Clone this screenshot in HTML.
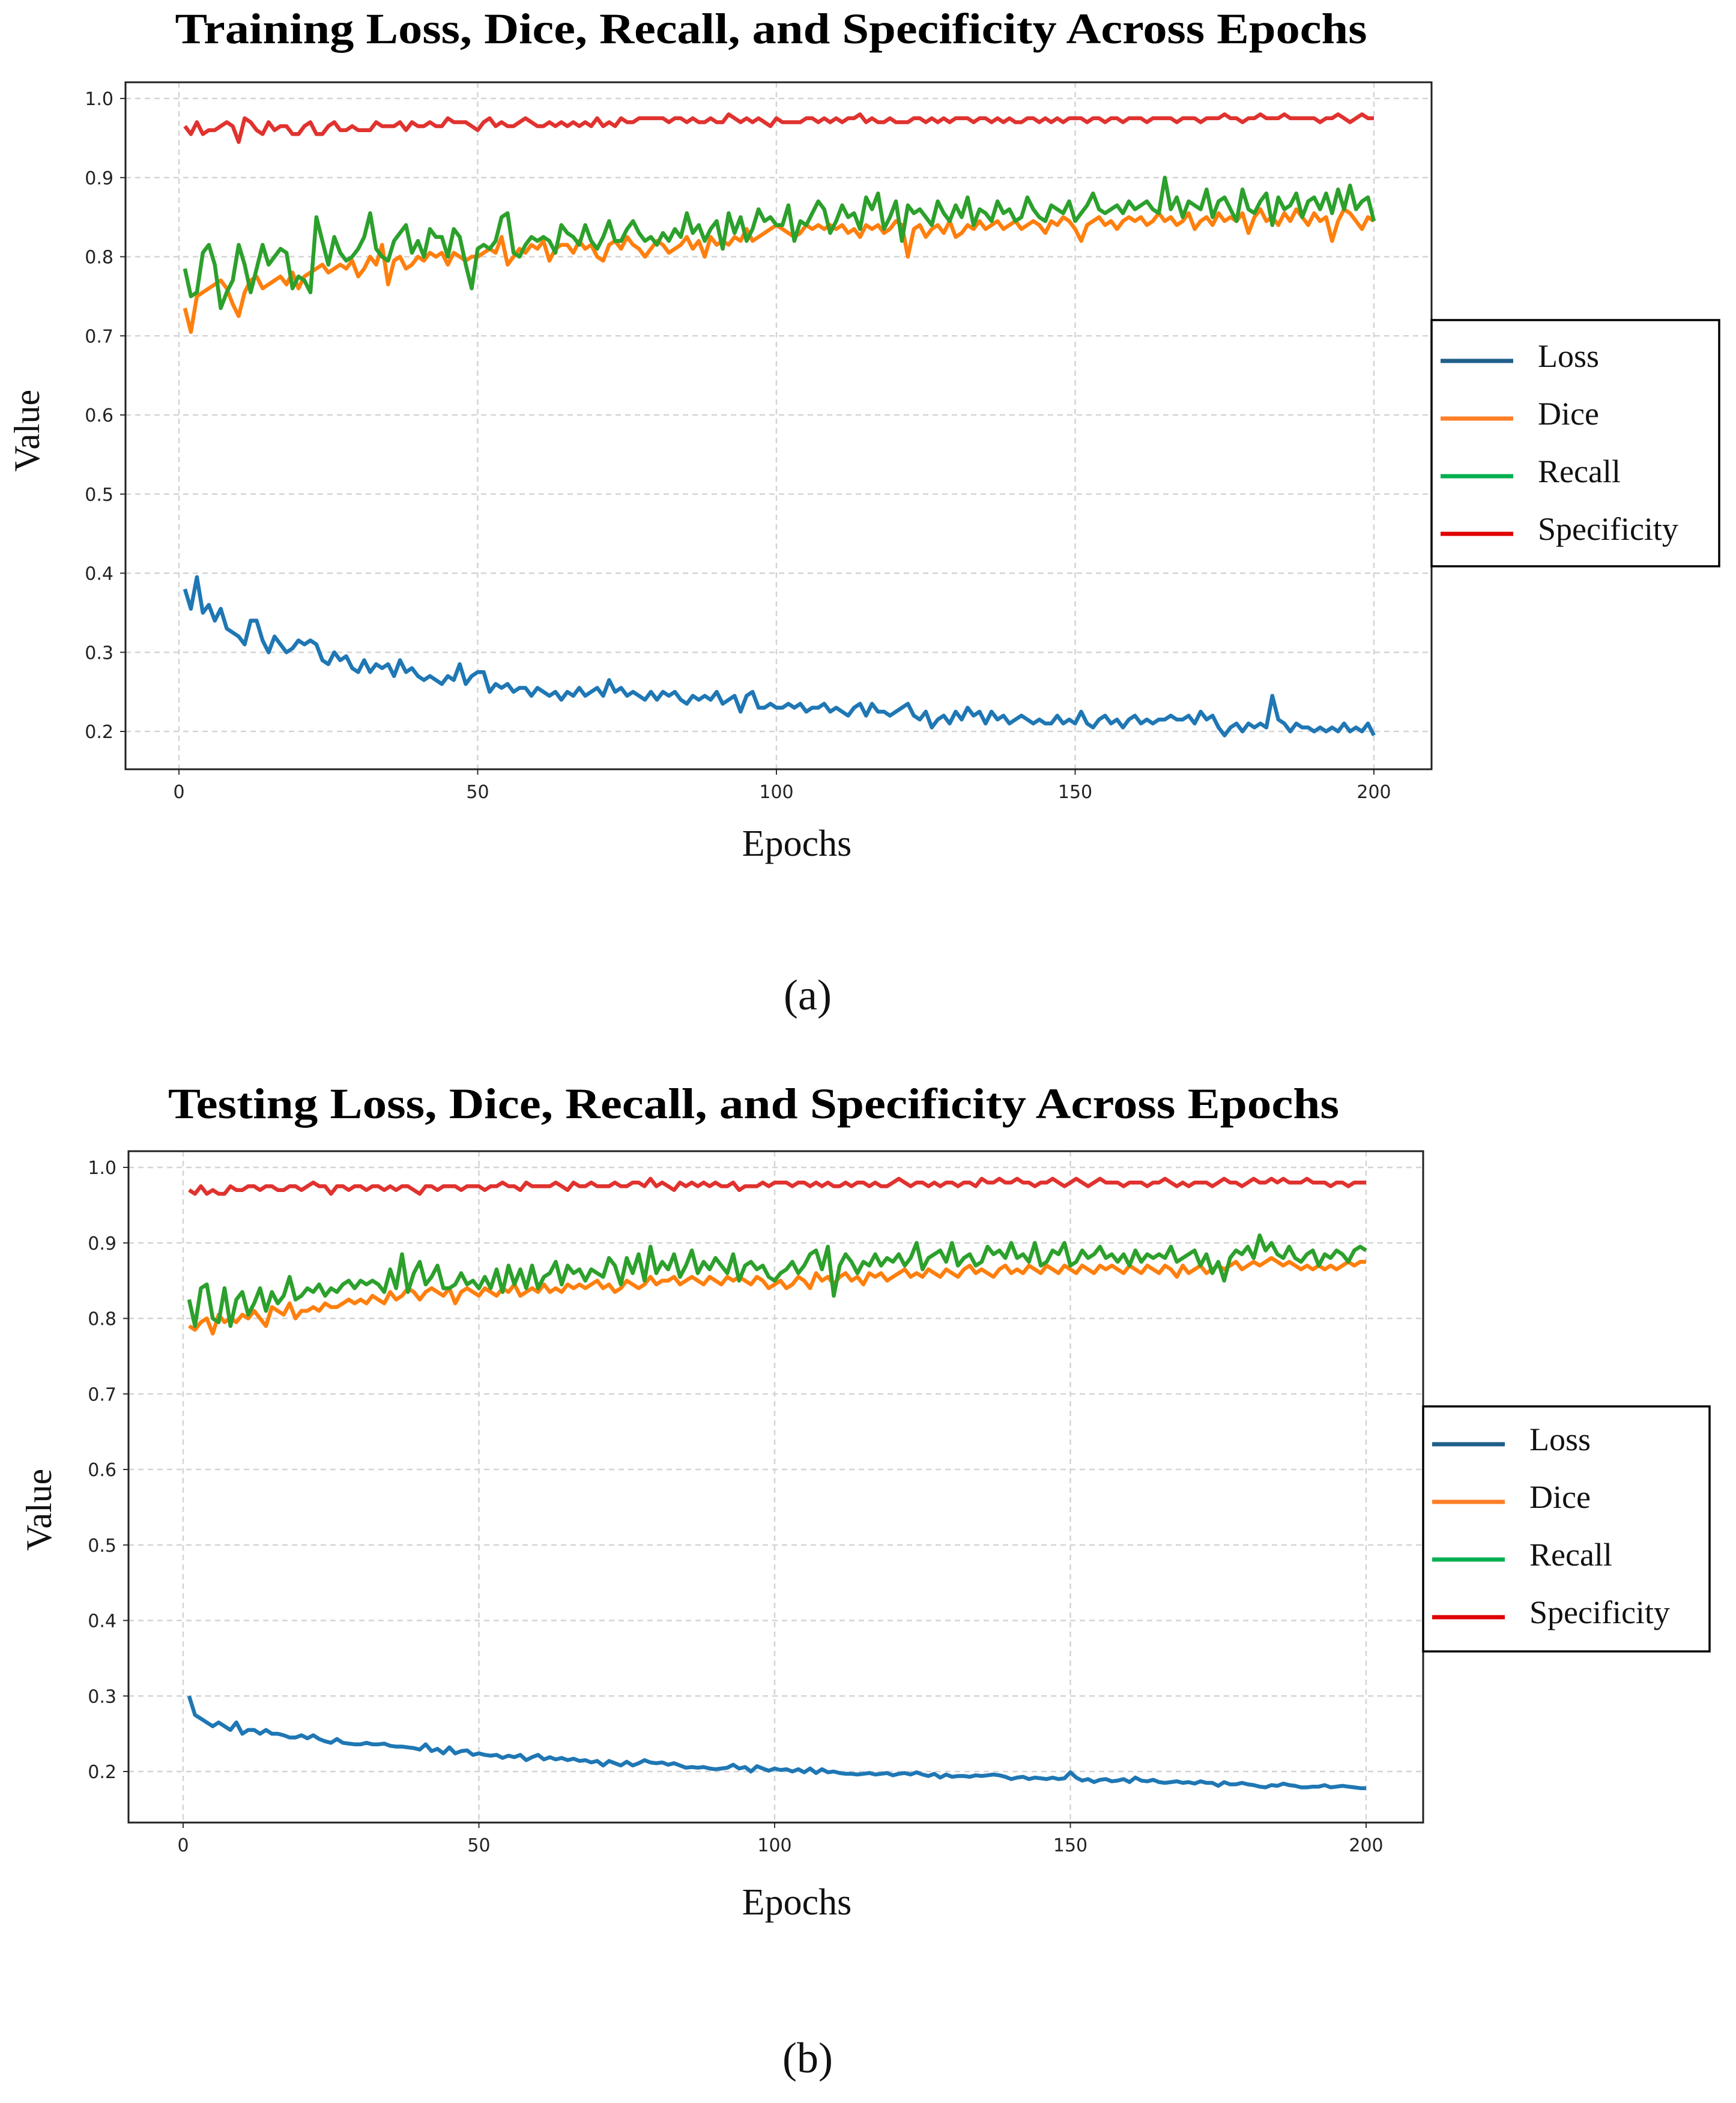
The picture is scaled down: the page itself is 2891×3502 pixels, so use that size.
<!DOCTYPE html>
<html><head><meta charset="utf-8">
<style>
html,body{margin:0;padding:0;background:#fff;}
svg{display:block;}
</style></head>
<body>
<svg id="fig" width="2891" height="3502" viewBox="0 0 2891 3502" xmlns="http://www.w3.org/2000/svg"></svg>
<script>
const yTicks=[0.2,0.3,0.4,0.5,0.6,0.7,0.8,0.9,1.0];
const yTickLabels=["0.2","0.3","0.4","0.5","0.6","0.7","0.8","0.9","1.0"];
const xTicks=[0,50,100,150,200];
const xTickLabels=["0","50","100","150","200"];
const seriesNames=["Loss","Dice","Recall","Specificity"];

const trainLoss=[0.38,0.355,0.395,0.35,0.36,0.34,0.355,0.33,0.325,0.32,0.31,0.34,0.34,0.315,0.30,0.32,0.31,0.30,0.305,0.315,0.31,0.315,0.31,0.29,0.285,0.30,0.29,0.295,0.28,0.275,0.29,0.275,0.285,0.28,0.285,0.27,0.29,0.275,0.28,0.27,0.265,0.27,0.265,0.26,0.27,0.265,0.285,0.26,0.27,0.275,0.275,0.25,0.26,0.255,0.26,0.25,0.255,0.255,0.245,0.255,0.25,0.245,0.25,0.24,0.25,0.245,0.255,0.245,0.25,0.255,0.245,0.265,0.25,0.255,0.245,0.25,0.245,0.24,0.25,0.24,0.25,0.245,0.25,0.24,0.235,0.245,0.24,0.245,0.24,0.25,0.235,0.24,0.245,0.225,0.245,0.25,0.23,0.23,0.235,0.23,
0.23,0.235,0.23,0.235,0.225,0.23,0.23,0.235,0.225,0.23,0.225,0.22,0.23,0.235,0.22,0.235,0.225,0.225,0.22,0.225,0.23,0.235,0.22,0.215,0.225,0.205,0.215,0.22,0.21,0.225,0.215,0.23,0.22,0.225,0.21,0.225,0.215,0.22,0.21,0.215,0.22,0.215,0.21,0.215,0.21,0.21,0.22,0.21,0.215,0.21,0.225,0.21,0.205,0.215,0.22,0.21,0.215,0.205,0.215,0.22,0.21,0.215,0.21,0.215,0.215,0.22,0.215,0.215,0.22,0.21,0.225,0.215,0.22,0.205,0.195,0.205,0.21,0.20,0.21,0.205,0.21,0.205,0.245,0.215,0.21,0.20,0.21,0.205,0.205,0.20,0.205,0.20,0.205,0.20,0.21,0.20,0.205,0.20,0.21,0.195];
const trainDice=[0.735,0.705,0.75,0.755,0.76,0.765,0.77,0.76,0.74,0.725,0.755,0.77,0.775,0.76,0.765,0.77,0.775,0.765,0.78,0.76,0.775,0.78,0.785,0.79,0.78,0.785,0.79,0.785,0.795,0.775,0.785,0.80,0.79,0.815,0.765,0.795,0.80,0.785,0.79,0.80,0.795,0.805,0.80,0.805,0.79,0.805,0.80,0.795,0.80,0.80,0.805,0.81,0.805,0.825,0.79,0.80,0.81,0.805,0.815,0.81,0.82,0.795,0.81,0.815,0.815,0.805,0.82,0.81,0.815,0.80,0.795,0.815,0.82,0.81,0.825,0.815,0.81,0.80,0.81,0.82,0.815,0.805,0.81,0.815,0.825,0.81,0.82,0.80,0.825,0.815,0.82,0.815,0.825,0.82,0.835,0.82,0.825,0.83,0.835,0.84,
0.835,0.83,0.825,0.83,0.84,0.835,0.84,0.835,0.84,0.835,0.84,0.83,0.835,0.825,0.84,0.835,0.84,0.83,0.835,0.845,0.84,0.80,0.835,0.84,0.825,0.835,0.84,0.83,0.845,0.825,0.83,0.84,0.835,0.845,0.835,0.84,0.845,0.835,0.84,0.845,0.835,0.84,0.845,0.84,0.83,0.845,0.84,0.85,0.845,0.835,0.82,0.84,0.845,0.85,0.84,0.845,0.835,0.845,0.85,0.845,0.85,0.84,0.845,0.855,0.845,0.85,0.84,0.845,0.855,0.835,0.845,0.85,0.84,0.855,0.845,0.85,0.845,0.855,0.83,0.85,0.86,0.845,0.85,0.84,0.855,0.845,0.86,0.85,0.84,0.855,0.845,0.85,0.82,0.845,0.86,0.855,0.845,0.835,0.85,0.845];
const trainRecall=[0.785,0.75,0.755,0.805,0.815,0.79,0.735,0.755,0.77,0.815,0.79,0.755,0.785,0.815,0.79,0.80,0.81,0.805,0.76,0.775,0.77,0.755,0.85,0.82,0.79,0.825,0.805,0.795,0.80,0.81,0.825,0.855,0.81,0.80,0.795,0.82,0.83,0.84,0.805,0.82,0.80,0.835,0.825,0.825,0.80,0.835,0.825,0.79,0.76,0.81,0.815,0.81,0.82,0.85,0.855,0.805,0.80,0.815,0.825,0.82,0.825,0.82,0.805,0.84,0.83,0.825,0.815,0.84,0.82,0.81,0.825,0.845,0.82,0.82,0.835,0.845,0.83,0.82,0.825,0.815,0.83,0.82,0.835,0.825,0.855,0.83,0.84,0.82,0.835,0.845,0.81,0.855,0.83,0.85,0.82,0.835,0.86,0.845,0.85,0.84,
0.84,0.865,0.82,0.845,0.84,0.855,0.87,0.86,0.83,0.845,0.865,0.85,0.855,0.835,0.875,0.86,0.88,0.835,0.85,0.87,0.82,0.865,0.855,0.86,0.85,0.84,0.87,0.855,0.845,0.865,0.85,0.875,0.84,0.86,0.855,0.845,0.87,0.855,0.86,0.845,0.85,0.875,0.86,0.85,0.845,0.865,0.86,0.855,0.87,0.845,0.855,0.865,0.88,0.86,0.855,0.86,0.865,0.855,0.87,0.86,0.865,0.87,0.86,0.855,0.90,0.86,0.875,0.85,0.87,0.865,0.86,0.885,0.85,0.87,0.875,0.86,0.845,0.885,0.86,0.855,0.87,0.88,0.84,0.875,0.86,0.865,0.88,0.85,0.87,0.875,0.86,0.88,0.855,0.885,0.86,0.89,0.86,0.87,0.875,0.845];
const trainSpec=[0.965,0.955,0.97,0.955,0.96,0.96,0.965,0.97,0.965,0.945,0.975,0.97,0.96,0.955,0.97,0.96,0.965,0.965,0.955,0.955,0.965,0.97,0.955,0.955,0.965,0.97,0.96,0.96,0.965,0.96,0.96,0.96,0.97,0.965,0.965,0.965,0.97,0.96,0.97,0.965,0.965,0.97,0.965,0.965,0.975,0.97,0.97,0.97,0.965,0.96,0.97,0.975,0.965,0.97,0.965,0.965,0.97,0.975,0.97,0.965,0.965,0.97,0.965,0.97,0.965,0.97,0.965,0.97,0.965,0.975,0.965,0.97,0.965,0.975,0.97,0.97,0.975,0.975,0.975,0.975,0.975,0.97,0.975,0.975,0.97,0.975,0.97,0.97,0.975,0.97,0.97,0.98,0.975,0.97,0.975,0.97,0.975,0.97,0.965,0.975,
0.97,0.97,0.97,0.97,0.975,0.975,0.97,0.975,0.97,0.975,0.97,0.975,0.975,0.98,0.97,0.975,0.97,0.97,0.975,0.97,0.97,0.97,0.975,0.975,0.97,0.975,0.97,0.975,0.97,0.975,0.975,0.975,0.97,0.975,0.975,0.97,0.975,0.97,0.975,0.97,0.97,0.975,0.975,0.97,0.975,0.97,0.975,0.97,0.975,0.975,0.975,0.97,0.975,0.975,0.97,0.975,0.975,0.97,0.975,0.975,0.975,0.97,0.975,0.975,0.975,0.975,0.97,0.975,0.975,0.975,0.97,0.975,0.975,0.975,0.98,0.975,0.975,0.97,0.975,0.975,0.98,0.975,0.975,0.975,0.98,0.975,0.975,0.975,0.975,0.975,0.97,0.975,0.975,0.98,0.975,0.97,0.975,0.98,0.975,0.975];

const testLoss=[0.30,0.275,0.27,0.265,0.26,0.265,0.26,0.255,0.265,0.25,0.255,0.255,0.25,0.255,0.25,0.25,0.248,0.245,0.245,0.248,0.244,0.248,0.243,0.24,0.238,0.243,0.238,0.237,0.236,0.236,0.238,0.236,0.236,0.237,0.234,0.233,0.233,0.232,0.231,0.229,0.236,0.227,0.23,0.224,0.232,0.224,0.227,0.228,0.222,0.224,0.222,0.221,0.222,0.218,0.221,0.219,0.222,0.215,0.219,0.222,0.216,0.219,0.216,0.218,0.215,0.217,0.214,0.215,0.212,0.214,0.208,0.214,0.211,0.208,0.213,0.208,0.211,0.215,0.212,0.211,0.212,0.209,0.211,0.208,0.205,0.206,0.205,0.206,0.204,0.203,0.204,0.205,0.209,0.204,0.206,0.2,0.207,0.204,0.201,0.204,
0.202,0.203,0.2,0.203,0.199,0.204,0.198,0.203,0.199,0.2,0.198,0.197,0.197,0.196,0.197,0.198,0.196,0.197,0.198,0.195,0.197,0.198,0.196,0.199,0.196,0.194,0.197,0.192,0.196,0.193,0.194,0.194,0.193,0.195,0.194,0.195,0.196,0.195,0.193,0.19,0.192,0.193,0.19,0.192,0.191,0.19,0.192,0.19,0.191,0.199,0.192,0.188,0.19,0.186,0.189,0.19,0.187,0.188,0.19,0.186,0.192,0.188,0.187,0.189,0.186,0.185,0.186,0.187,0.185,0.186,0.184,0.187,0.185,0.185,0.181,0.186,0.183,0.183,0.185,0.183,0.182,0.18,0.179,0.182,0.181,0.184,0.182,0.181,0.179,0.179,0.18,0.18,0.182,0.179,0.18,0.181,0.18,0.179,0.178,0.178];
const testDice=[0.79,0.785,0.795,0.8,0.78,0.805,0.795,0.8,0.795,0.805,0.8,0.81,0.8,0.79,0.815,0.81,0.805,0.82,0.8,0.81,0.81,0.815,0.81,0.82,0.815,0.815,0.82,0.825,0.82,0.825,0.82,0.83,0.825,0.82,0.835,0.825,0.83,0.84,0.835,0.825,0.835,0.84,0.835,0.83,0.84,0.82,0.835,0.84,0.835,0.83,0.84,0.835,0.83,0.84,0.835,0.845,0.83,0.835,0.84,0.835,0.845,0.835,0.84,0.835,0.845,0.84,0.845,0.84,0.845,0.85,0.84,0.845,0.835,0.84,0.85,0.845,0.84,0.845,0.855,0.845,0.85,0.85,0.855,0.845,0.85,0.855,0.85,0.845,0.855,0.85,0.845,0.855,0.85,0.855,0.85,0.845,0.855,0.85,0.84,0.845,
0.85,0.84,0.845,0.855,0.85,0.84,0.86,0.85,0.855,0.845,0.855,0.86,0.85,0.855,0.845,0.86,0.855,0.86,0.85,0.855,0.86,0.865,0.855,0.86,0.855,0.865,0.86,0.855,0.865,0.86,0.855,0.865,0.87,0.86,0.865,0.86,0.855,0.865,0.87,0.86,0.865,0.86,0.87,0.865,0.86,0.87,0.865,0.86,0.87,0.865,0.86,0.87,0.865,0.86,0.87,0.865,0.87,0.865,0.86,0.87,0.865,0.86,0.87,0.865,0.86,0.87,0.865,0.855,0.87,0.86,0.865,0.87,0.86,0.865,0.87,0.865,0.87,0.875,0.865,0.87,0.875,0.87,0.875,0.88,0.875,0.87,0.875,0.87,0.865,0.87,0.865,0.87,0.865,0.87,0.865,0.87,0.875,0.87,0.875,0.875];
const testRecall=[0.825,0.79,0.84,0.845,0.8,0.795,0.84,0.79,0.825,0.835,0.805,0.82,0.84,0.81,0.835,0.82,0.83,0.855,0.825,0.83,0.84,0.835,0.845,0.83,0.84,0.835,0.845,0.85,0.84,0.85,0.845,0.85,0.845,0.835,0.865,0.84,0.885,0.835,0.86,0.875,0.845,0.855,0.87,0.84,0.84,0.845,0.86,0.845,0.85,0.84,0.855,0.84,0.865,0.835,0.87,0.845,0.865,0.84,0.87,0.84,0.855,0.86,0.875,0.845,0.87,0.86,0.865,0.85,0.865,0.86,0.855,0.88,0.87,0.845,0.88,0.86,0.885,0.85,0.895,0.86,0.875,0.865,0.885,0.855,0.87,0.89,0.86,0.875,0.865,0.88,0.87,0.86,0.885,0.85,0.87,0.875,0.865,0.87,0.855,0.85,
0.86,0.865,0.875,0.86,0.87,0.885,0.89,0.865,0.895,0.83,0.87,0.885,0.875,0.86,0.875,0.87,0.885,0.87,0.88,0.875,0.885,0.87,0.88,0.9,0.865,0.88,0.885,0.89,0.875,0.9,0.87,0.88,0.885,0.87,0.875,0.895,0.885,0.89,0.88,0.9,0.88,0.885,0.875,0.9,0.87,0.875,0.89,0.885,0.9,0.87,0.875,0.89,0.88,0.885,0.895,0.88,0.885,0.875,0.885,0.87,0.89,0.875,0.885,0.88,0.885,0.88,0.895,0.875,0.88,0.885,0.89,0.87,0.885,0.86,0.875,0.85,0.88,0.89,0.885,0.895,0.88,0.91,0.89,0.9,0.885,0.88,0.895,0.88,0.875,0.885,0.89,0.87,0.885,0.88,0.89,0.885,0.875,0.89,0.895,0.89];
const testSpec=[0.97,0.965,0.975,0.965,0.97,0.965,0.965,0.975,0.97,0.97,0.975,0.975,0.97,0.975,0.975,0.97,0.97,0.975,0.975,0.97,0.975,0.98,0.975,0.975,0.965,0.975,0.975,0.97,0.975,0.975,0.97,0.975,0.975,0.97,0.975,0.97,0.975,0.975,0.97,0.965,0.975,0.975,0.97,0.975,0.975,0.975,0.97,0.975,0.975,0.975,0.97,0.975,0.975,0.98,0.975,0.975,0.97,0.98,0.975,0.975,0.975,0.975,0.98,0.975,0.97,0.98,0.975,0.975,0.98,0.975,0.975,0.975,0.98,0.975,0.975,0.98,0.98,0.975,0.985,0.975,0.98,0.975,0.97,0.98,0.975,0.98,0.975,0.98,0.975,0.98,0.975,0.975,0.98,0.97,0.975,0.975,0.975,0.98,0.975,0.98,
0.98,0.98,0.975,0.98,0.98,0.975,0.98,0.975,0.98,0.975,0.975,0.98,0.975,0.98,0.98,0.975,0.98,0.975,0.975,0.98,0.985,0.98,0.975,0.98,0.98,0.975,0.98,0.975,0.98,0.98,0.975,0.98,0.98,0.975,0.985,0.98,0.98,0.985,0.98,0.98,0.985,0.98,0.98,0.975,0.98,0.98,0.985,0.98,0.975,0.98,0.985,0.98,0.975,0.98,0.985,0.98,0.98,0.98,0.975,0.98,0.98,0.98,0.975,0.98,0.98,0.985,0.98,0.975,0.98,0.975,0.98,0.98,0.98,0.975,0.98,0.985,0.98,0.98,0.975,0.98,0.985,0.98,0.98,0.985,0.98,0.985,0.98,0.98,0.98,0.985,0.98,0.98,0.98,0.975,0.98,0.98,0.975,0.98,0.98,0.98];

const NS="http://www.w3.org/2000/svg";
const svg=document.getElementById('fig');
const lineColors=["#1f77b4","#ff7f0e","#2ca02c","#e0322f"];
const legendColors=["#1f5f8b","#ff7f27","#00b050","#e00000"];
function mk(tag,attrs,parent){const e=document.createElementNS(NS,tag);for(const k in attrs)e.setAttribute(k,attrs[k]);(parent||svg).appendChild(e);return e;}

function drawChart(p){
  const g=mk('g',{});
  
  
  const xs=v=>p.x0+(p.x200-p.x0)*v/200;
  const ys=v=>p.y02+(p.y10-p.y02)*(v-0.2)/0.8;
  xTicks.forEach((t,i)=>{
    const l=mk('line',{x1:xs(t),x2:xs(t),y1:p.top,y2:p.bottom,stroke:'#d4d4d4','stroke-width':2.5,'stroke-dasharray':'9,7'},g);
    
    
    const tk=mk('line',{x1:xs(t),x2:xs(t),y1:p.bottom,y2:p.bottom+9,stroke:'#333','stroke-width':2},g);
    
    
    const tx=mk('text',{x:xs(t),y:p.bottom+48,'text-anchor':'middle','font-family':'DejaVu Sans, sans-serif','font-size':30,fill:'#222'},g);
    tx.textContent=xTickLabels[i];
    
    
  });
  yTicks.forEach((t,i)=>{
    const l=mk('line',{x1:p.left,x2:p.right,y1:ys(t),y2:ys(t),stroke:'#d4d4d4','stroke-width':2.5,'stroke-dasharray':'9,7'},g);
    
    
    const tk=mk('line',{x1:p.left-9,x2:p.left,y1:ys(t),y2:ys(t),stroke:'#333','stroke-width':2},g);
    
    
    const tx=mk('text',{x:p.left-20,y:ys(t)+11,'text-anchor':'end','font-family':'DejaVu Sans, sans-serif','font-size':30,fill:'#222'},g);
    tx.textContent=yTickLabels[i];
    
    
  });
  p.series.forEach((arr,si)=>{
    const pts=arr.map((v,i)=>xs(i+1).toFixed(1)+','+ys(v).toFixed(1)).join(' ');
    const pl=mk('polyline',{points:pts,fill:'none',stroke:lineColors[si],'stroke-width':6.5,'stroke-linejoin':'round'},g);
    
    
  });
  const fr=mk('rect',{x:p.left,y:p.top,width:p.right-p.left,height:p.bottom-p.top,fill:'none',stroke:'#222','stroke-width':3},g);
  
  
  const ti=mk('text',{x:p.titleX,y:p.titleY,'text-anchor':'middle','font-family':'Liberation Serif, serif','font-weight':'bold','font-size':72,fill:'#000',textLength:p.titleW,lengthAdjust:'spacingAndGlyphs'},g);
  ti.textContent=p.title;
  
  
  const xl=mk('text',{x:p.xlX,y:p.xlY,'text-anchor':'middle','font-family':'Liberation Serif, serif','font-size':62,fill:'#111'},g);
  xl.textContent='Epochs';
  
  
  const yl=mk('text',{x:0,y:0,'text-anchor':'middle','font-family':'Liberation Serif, serif','font-size':60,fill:'#111',transform:'translate('+p.ylX+','+p.ylY+') rotate(-90)'},g);
  yl.textContent='Value';
  
  
  const lg=mk('g',{},g);
  
  
  mk('rect',{x:p.lgX,y:p.lgY,width:p.lgW,height:p.lgH,fill:'#fff',stroke:'#000','stroke-width':3.5},lg);
  seriesNames.forEach((n,i)=>{
    const ey=p.lgY+p.lgFirst+i*p.lgStep;
    const en=mk('g',{},lg);
    
    
    mk('line',{x1:p.lgX+15,x2:p.lgX+136,y1:ey+8,y2:ey+8,stroke:legendColors[i],'stroke-width':7},en);
    const t=mk('text',{x:p.lgX+177,y:ey+18,'font-family':'Liberation Serif, serif','font-size':54,fill:'#111'},en);
    t.textContent=n;
  });
  const cap=mk('text',{x:1345,y:p.capY,'text-anchor':'middle','font-family':'Liberation Serif, serif','font-size':72,fill:'#111'},g);
  cap.textContent=p.caption;
  
  
}

drawChart({name:'training-chart',title:'Training Loss, Dice, Recall, and Specificity Across Epochs',titleX:1284,titleY:72,titleW:1985,
  left:209,right:2384,top:137,bottom:1281,x0:298,x200:2288,y10:164,y02:1218,
  series:[trainLoss,trainDice,trainRecall,trainSpec],
  xlX:1327,xlY:1425,ylX:65,ylY:717,lgX:2384,lgY:533,lgW:479,lgH:410,lgFirst:60,lgStep:96,capY:1681,caption:'(a)'});
drawChart({name:'testing-chart',title:'Testing Loss, Dice, Recall, and Specificity Across Epochs',titleX:1255,titleY:1862,titleW:1950,
  left:214,right:2370,top:1917,bottom:3035,x0:305,x200:2275,y10:1944,y02:2950,
  series:[testLoss,testDice,testRecall,testSpec],
  xlX:1327,xlY:3188,ylX:85,ylY:2514,lgX:2370,lgY:2342,lgW:477,lgH:408,lgFirst:55,lgStep:96,capY:3451,caption:'(b)'});
</script>
</body></html>
